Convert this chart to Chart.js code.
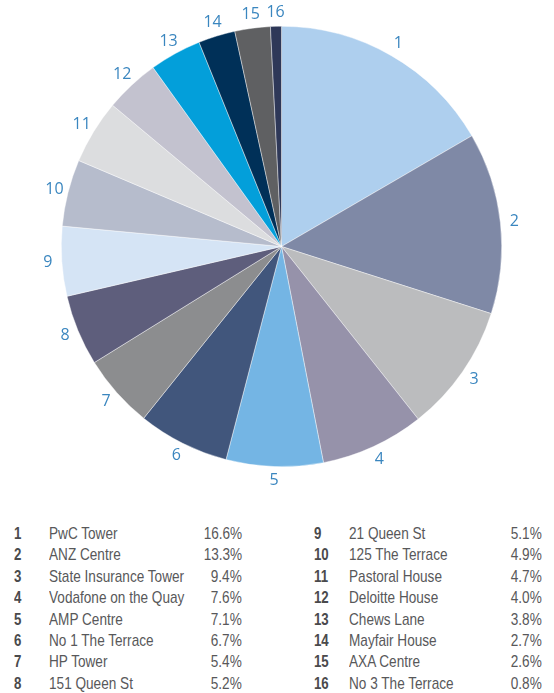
<!DOCTYPE html>
<html>
<head>
<meta charset="utf-8">
<script src="https://cdn.jsdelivr.net/npm/chart.js@4"></script>
<style>
    body { margin: 0; background: #fff; width: 554px; height: 693px; overflow: hidden; position: relative; }
    #chart-wrap { position: absolute; left: 0; top: 0; width: 554px; height: 500px; }
    .legend-row { position: absolute; height: 21px; line-height: 21px; font-family: "Liberation Sans", Arial, sans-serif; font-size: 17px; color: #58585a; white-space: nowrap; }
    .legend-row span { position: absolute; top: 0; }
    .legend-num { left: 0; font-weight: bold; color: #4a4a4c; transform: scaleX(0.78); transform-origin: left center; }
    .legend-name { transform: scaleX(0.8); transform-origin: left center; }
    .legend-pct { transform: scaleX(0.8); transform-origin: right center; }
</style>
</head>
<body>
<div id="chart-wrap"><canvas id="pie" width="554" height="500"></canvas></div>
<div id="legend"></div>
<script>
// office buildings, share of total (%)
const buildings = [
    "PwC Tower", "ANZ Centre", "State Insurance Tower", "Vodafone on the Quay",
    "AMP Centre", "No 1 The Terrace", "HP Tower", "151 Queen St",
    "21 Queen St", "125 The Terrace", "Pastoral House", "Deloitte House",
    "Chews Lane", "Mayfair House", "AXA Centre", "No 3 The Terrace"
]
const shares = [16.6, 13.3, 9.4, 7.6, 7.1, 6.7, 5.4, 5.2, 5.1, 4.9, 4.7, 4.0, 3.8, 2.7, 2.6, 0.8]
const sliceColors = [
    "#aecfee", "#7f89a6", "#bbbcbe", "#9692aa", "#74b5e4", "#41567c", "#8c8d8f", "#5e5e7c",
    "#d5e4f5", "#b6bccc", "#dcdddf", "#c3c2cf", "#039fda", "#003058", "#5f6062", "#2e3858"
]

// draws the slice number just outside each arc
const outerNumbersPlugin = {
    id: 'outerNumbers',
    afterDatasetsDraw(chart) {
        const ctx = chart.ctx
        const meta = chart.getDatasetMeta(0)
        ctx.save()
        ctx.fillStyle = "#3a86bf"
        ctx.font = '16px "Open Sans", sans-serif'
        ctx.textAlign = 'center'
        ctx.textBaseline = 'middle'
        meta.data.forEach((arc, i) => {
            const { x, y, startAngle, endAngle, outerRadius } = arc.getProps(['x', 'y', 'startAngle', 'endAngle', 'outerRadius'], true)
            const mid = (startAngle + endAngle) / 2
            const r = outerRadius + 14
            ctx.fillText(String(i + 1), x + Math.cos(mid) * r, y + Math.sin(mid) * r)
        })
        ctx.restore()
    }
}

const chart = new Chart(document.getElementById('pie').getContext('2d'), {
    type: 'pie',
    data: {
        labels: buildings,
        datasets: [{
            data: shares,
            backgroundColor: sliceColors,
            borderColor: "rgba(255,255,255,0.7)",
            borderWidth: 0.6
        }]
    },
    options: {
        responsive: false,
        animation: false,
        layout: { padding: { top: 26, bottom: 33, left: 61, right: 52 } },
        plugins: {
            legend: { display: false },
            tooltip: { enabled: false }
        }
    },
    plugins: [outerNumbersPlugin]
})

// legend table below the pie, two columns of eight
const legend = document.getElementById('legend')
const columns = [
    { left: 14, nameLeft: 35, width: 228 },
    { left: 314, nameLeft: 35, width: 228 }
]
buildings.forEach((name, i) => {
    const col = columns[Math.floor(i / 8)]
    const rowIdx = i % 8
    const row = document.createElement('div')
    row.classList.add('legend-row')
    row.style.left = col.left + 'px'
    row.style.top = (523 + rowIdx * 21.4) + 'px'
    row.style.width = col.width + 'px'
    row.innerHTML = `<span class="legend-num">${i + 1}</span><span class="legend-name" style="left:${col.nameLeft}px">${name}</span><span class="legend-pct" style="right:0">${shares[i].toFixed(1)}%</span>`
    legend.appendChild(row)
})
</script>
</body>
</html>
